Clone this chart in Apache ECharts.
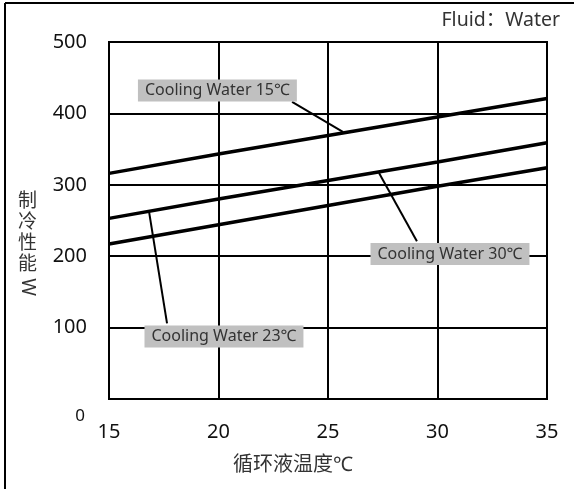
<!DOCTYPE html>
<html>
<head>
<meta charset="utf-8">
<script src="https://cdn.jsdelivr.net/npm/echarts@6/dist/echarts.min.js"></script>
<style>html,body{margin:0;padding:0;background:#fff}#c{width:574px;height:489px}</style>
</head>
<body>
<div id="c"></div>
<script>
// ---- data ----
var xTicks = [15, 20, 25, 30, 35];
var water15 = [316, 343, 369, 395, 421];
var water23 = [253, 280, 306, 332, 359];
var water30 = [217, 244, 271, 298, 324];
var annoText = ['Cooling Water 15℃', 'Cooling Water 23℃', 'Cooling Water 30℃'];
var annoBox  = [[19.95, 432], [20.25, 87.5], [30.57, 203]];
var annoFrom = [[23.36, 416], [17.65, 106], [29.06, 221]];
var annoTo   = [[25.68, 374], [16.83, 262], [27.33, 316.5]];
var xName = '循环液温度℃';
var yName = ['制', '冷', '性', '能'];
var yUnit = 'W';
var fluidText = 'Fluid：Water';

var FONT = '"Noto Sans", "Noto Sans CJK SC", sans-serif';
function pairs(ys) { return xTicks.map(function (x, i) { return [x, ys[i]]; }); }
var annoData = annoText.map(function (t, i) {
  return [annoBox[i][0], annoBox[i][1], annoFrom[i][0], annoFrom[i][1], annoTo[i][0], annoTo[i][1]];
});

var chart = echarts.init(document.getElementById('c'), null, { renderer: 'canvas' });
var lineSeries = function (name, ys) {
  return { name: name, type: 'line', data: pairs(ys), symbol: 'none', silent: true,
    lineStyle: { color: '#000', width: 3.5 }, z: 3 };
};
chart.setOption({
  animation: false,
  backgroundColor: '#fff',
  grid: { left: 109, right: 27, top: 42, bottom: 90, show: true, borderColor: '#000', borderWidth: 2, backgroundColor: 'transparent' },
  xAxis: {
    type: 'value', min: 15, max: 35, interval: 5,
    axisLine: { show: true, lineStyle: { color: '#000', width: 2 } },
    axisTick: { show: false },
    splitLine: { show: true, lineStyle: { color: '#000', width: 2 } },
    axisLabel: { fontSize: 20, color: '#111', margin: 23, fontFamily: FONT },
    name: xName, nameLocation: 'middle', nameGap: 56,
    nameTextStyle: { fontSize: 20, color: '#333', fontFamily: FONT, padding: [0, 70, 0, 0] }
  },
  yAxis: {
    type: 'value', min: 0, max: 500, interval: 100,
    axisLine: { show: true, lineStyle: { color: '#000', width: 2 } },
    axisTick: { show: false },
    splitLine: { show: true, lineStyle: { color: '#000', width: 2 } },
    axisLabel: { fontSize: 20, color: '#111', margin: 22, fontFamily: FONT,
      formatter: function (v) { return v === 0 ? '' : String(v); } }
  },
  series: [
    lineSeries('Cooling Water 15℃', water15),
    lineSeries('Cooling Water 23℃', water23),
    lineSeries('Cooling Water 30℃', water30),
    {
      type: 'custom', data: annoData, clip: false, silent: true, z: 5,
      renderItem: function (params, api) {
        var b = api.coord([api.value(0), api.value(1)]);
        var f = api.coord([api.value(2), api.value(3)]);
        var t = api.coord([api.value(4), api.value(5)]);
        return { type: 'group', children: [
          { type: 'line', shape: { x1: f[0], y1: f[1], x2: t[0], y2: t[1] },
            style: { stroke: '#000', lineWidth: 2 } },
          { type: 'text', x: b[0], y: b[1],
            style: { text: annoText[params.dataIndex], fontSize: 16, fontFamily: FONT, fill: '#333',
              backgroundColor: '#c0c0c0', padding: [3, 7, 3, 7], align: 'center', verticalAlign: 'middle' } }
        ] };
      }
    }
  ],
  graphic: [
    { type: 'line', shape: { x1: 5, y1: 3, x2: 574, y2: 3 }, style: { stroke: '#000', lineWidth: 2 } },
    { type: 'line', shape: { x1: 5, y1: 3, x2: 5, y2: 489 }, style: { stroke: '#000', lineWidth: 2 } },
    { type: 'text', x: 560, y: 20, style: { text: fluidText, fontSize: 19.5, fontFamily: FONT, fill: '#333', align: 'right', verticalAlign: 'middle' } },
    { type: 'text', x: 80, y: 416, style: { text: '0', fontSize: 17, fontFamily: FONT, fill: '#111', align: 'center', verticalAlign: 'middle' } },
    { type: 'text', x: 27.5, y: 191, style: { text: yName.join('\n'), fontSize: 19, lineHeight: 21, fontFamily: FONT, fill: '#333', align: 'center', verticalAlign: 'top' } },
    { type: 'text', x: 27.5, y: 287, rotation: -Math.PI / 2, style: { text: yUnit, fontSize: 19, fontFamily: FONT, fill: '#333', align: 'center', verticalAlign: 'middle' } }
  ]
});
</script>
</body>
</html>
